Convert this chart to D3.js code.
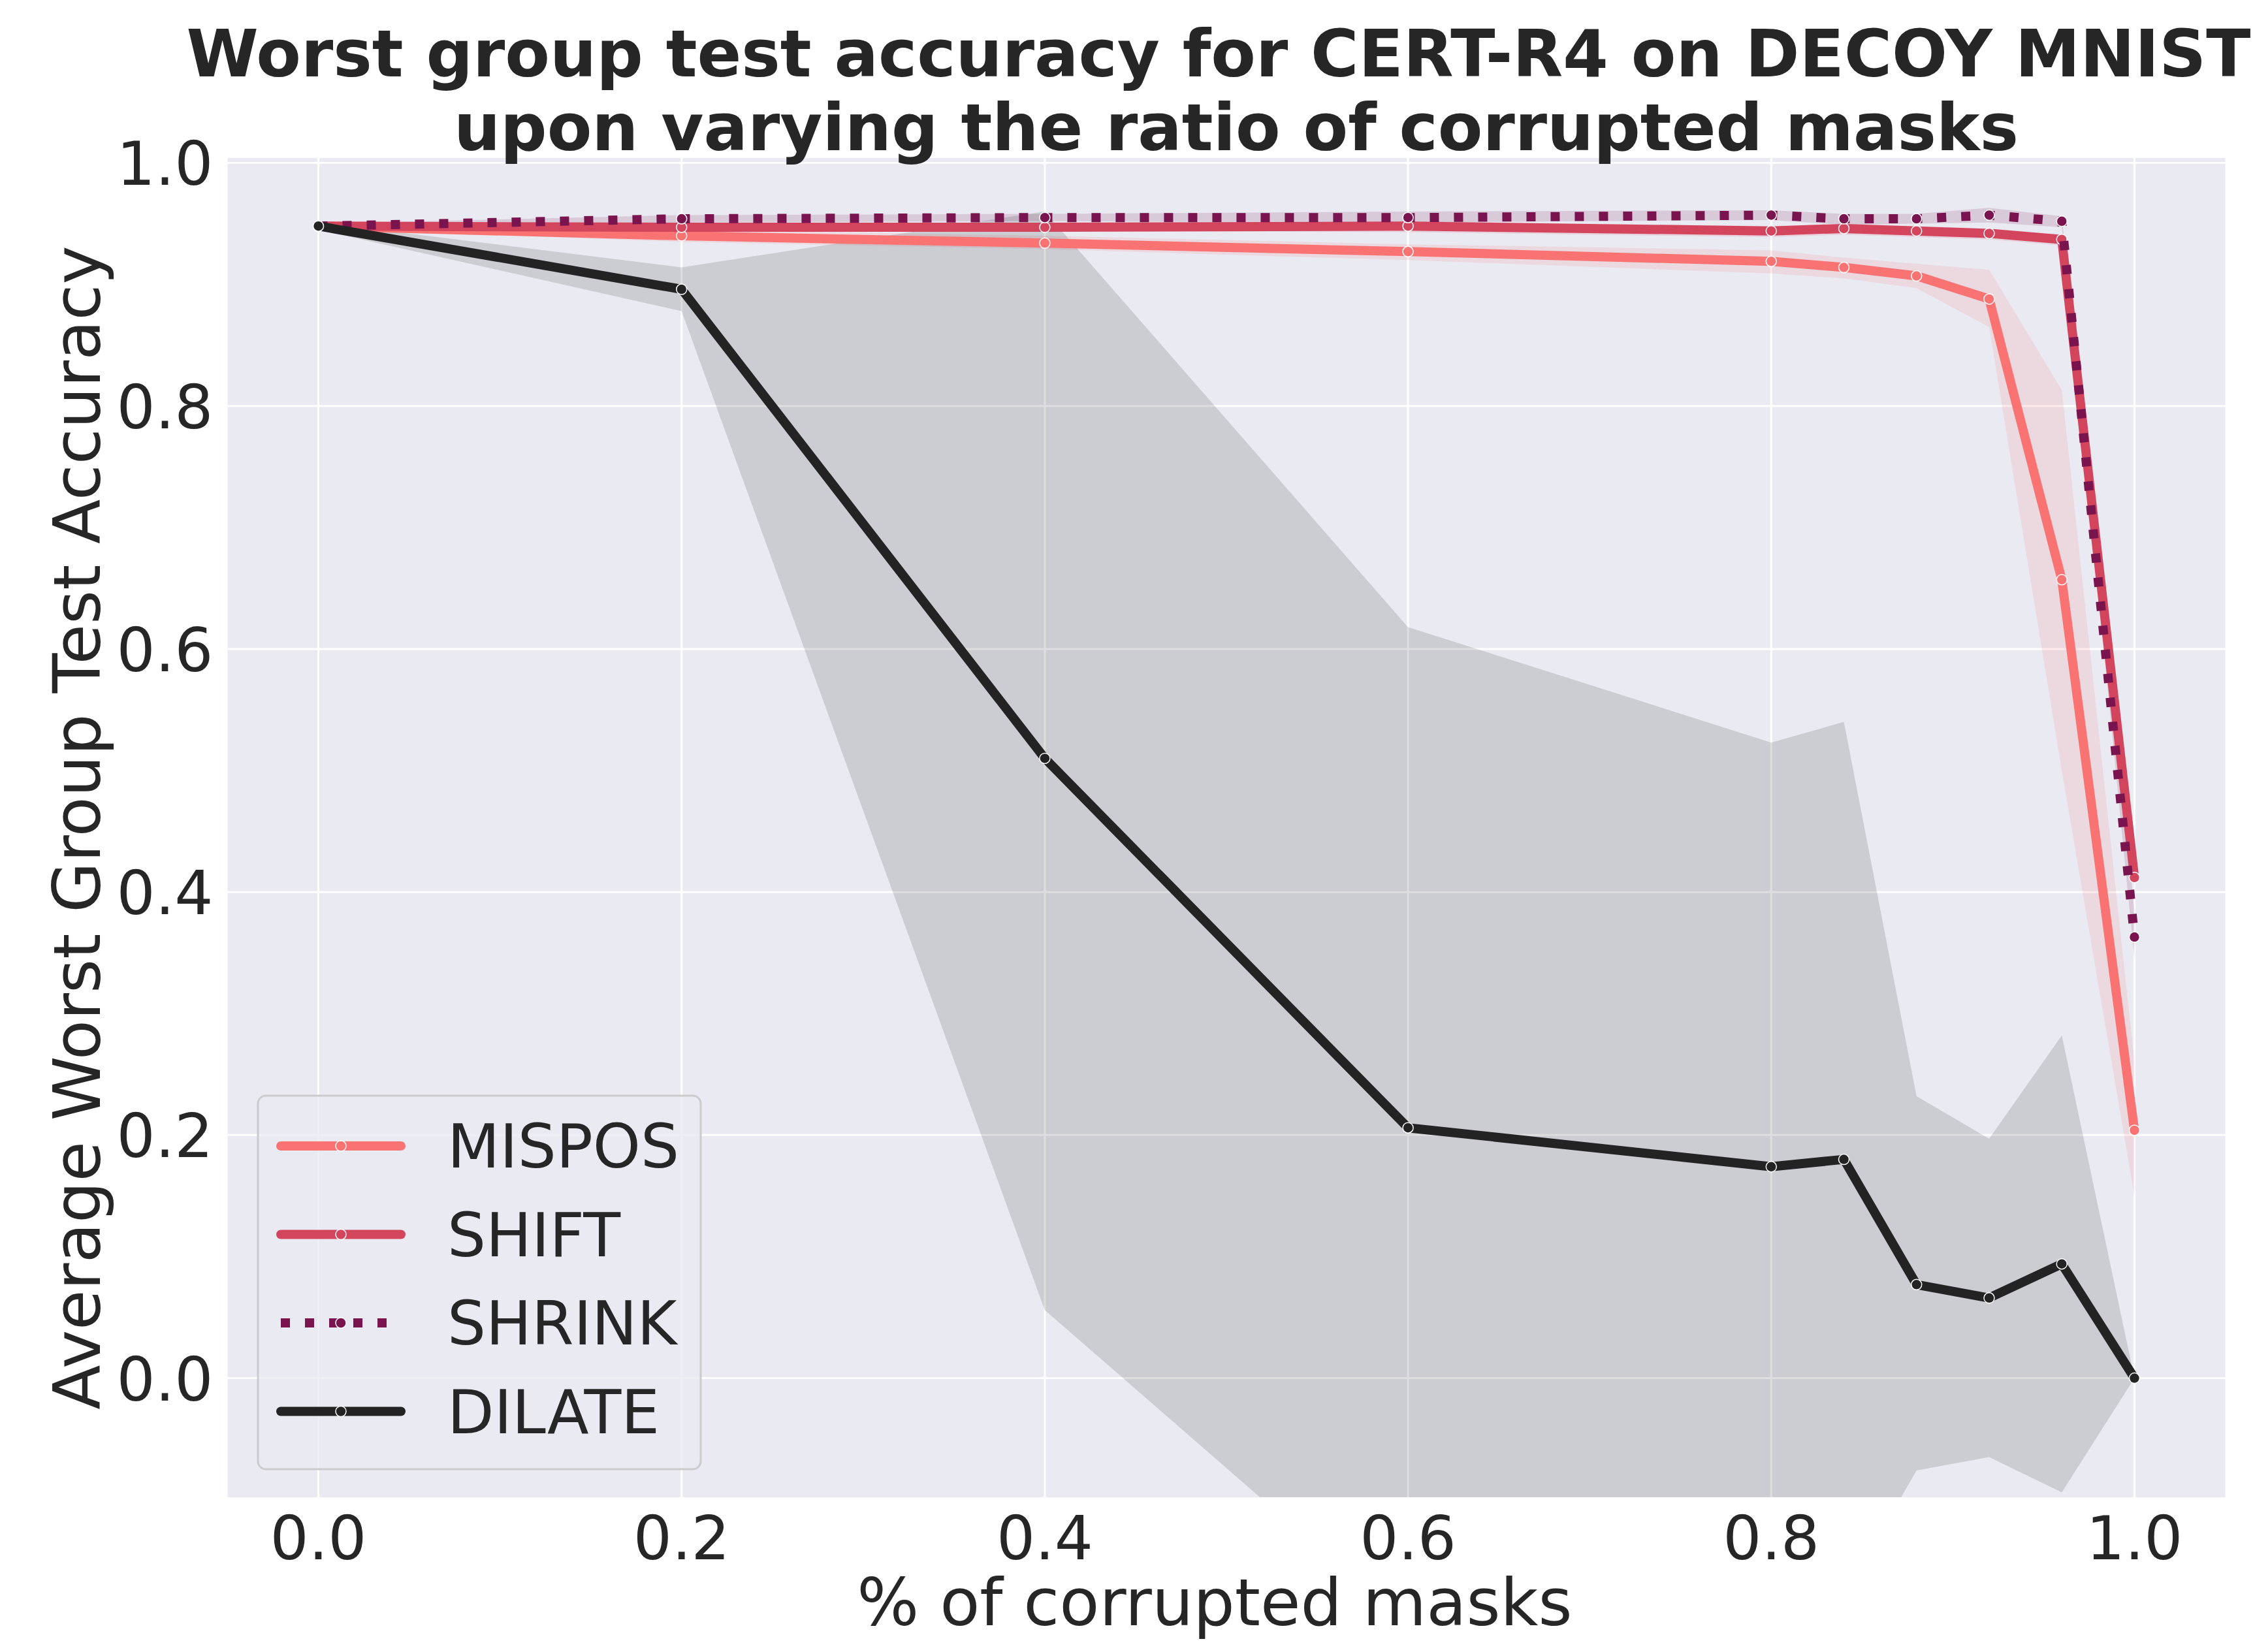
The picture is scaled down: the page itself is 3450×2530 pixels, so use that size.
<!DOCTYPE html>
<html>
<head>
<meta charset="utf-8">
<script src="https://cdn.jsdelivr.net/npm/d3@7"></script>
<style>
   body { margin: 0; background: #ffffff; }
   text { font-family: "DejaVu Sans", sans-serif; fill: #262626; }
</style>
</head>
<body>
<div id="chart"></div>
<script>

// X VALUES (RATIO OF CORRUPTED MASKS)
var ratios = [0, 0.2, 0.4, 0.6, 0.8, 0.84, 0.88, 0.92, 0.96, 1.0]

// SERIES NAMES
var seriesNames = ['MISPOS', 'SHIFT', 'SHRINK', 'DILATE']

// MEANS
var misposMean = [0.948, 0.940, 0.934, 0.927, 0.919, 0.914, 0.907, 0.888, 0.657, 0.204]
var shiftMean  = [0.948, 0.947, 0.947, 0.948, 0.944, 0.946, 0.944, 0.942, 0.937, 0.412]
var shrinkMean = [0.948, 0.954, 0.955, 0.955, 0.957, 0.954, 0.954, 0.957, 0.952, 0.363]
var dilateMean = [0.948, 0.896, 0.510, 0.206, 0.174, 0.180, 0.077, 0.066, 0.094, 0.000]

// CONFIDENCE BAND LOWER BOUNDS
var misposLow = [0.946, 0.935, 0.929, 0.920, 0.909, 0.905, 0.897, 0.865, 0.500, 0.150]
var shiftLow  = [0.946, 0.943, 0.944, 0.943, 0.939, 0.941, 0.939, 0.937, 0.932, 0.400]
var shrinkLow = [0.946, 0.951, 0.952, 0.951, 0.953, 0.949, 0.950, 0.951, 0.947, 0.345]
var dilateLow = [0.945, 0.878, 0.056, -0.204, -0.173, -0.180, -0.076, -0.065, -0.094, 0.000]

// CONFIDENCE BAND UPPER BOUNDS
var misposHigh = [0.950, 0.945, 0.940, 0.933, 0.928, 0.922, 0.917, 0.912, 0.813, 0.260]
var shiftHigh  = [0.950, 0.951, 0.950, 0.952, 0.948, 0.950, 0.948, 0.946, 0.941, 0.424]
var shrinkHigh = [0.950, 0.957, 0.958, 0.960, 0.961, 0.958, 0.958, 0.963, 0.956, 0.385]
var dilateHigh = [0.951, 0.914, 0.960, 0.618, 0.523, 0.540, 0.232, 0.197, 0.282, 0.000]

// TICKS
var xTicks = [0, 0.2, 0.4, 0.6, 0.8, 1.0]
var yTicks = [0, 0.2, 0.4, 0.6, 0.8, 1.0]

// TEXTS
var titleLines = ['Worst group test accuracy for CERT-R4 on DECOY MNIST', 'upon varying the ratio of corrupted masks']
var xLabel = '% of corrupted masks'
var yLabel = 'Average Worst Group Test Accuracy'

// SETTINGS
var settings = {
   width: 3450,
   height: 2530,
   plot: { left: 348.5, right: 3407.5, top: 242, bottom: 2293 },
   background: '#eaeaf2',
   colors: ['#f97373', '#d3455c', '#7a144f', '#232323'],
   dashes: [null, null, '14,23', null],
   lineWidth: 14,
   radius: 8,
   bandOpacity: 0.15,
   tickSize: 93,
   labelSize: 100,
   titleSize: 100,
   labelCenter: 1860,
   titleCenters: [1866, 1893]
}

// COMBINE ARRAYS PER SERIES
var means = [misposMean, shiftMean, shrinkMean, dilateMean]
var lows = [misposLow, shiftLow, shrinkLow, dilateLow]
var highs = [misposHigh, shiftHigh, shrinkHigh, dilateHigh]

function chart(settings) {

   var p = settings.plot

   // X-SCALING
   var xScale = d3.scaleLinear()
      .domain([-0.05, 1.05])
      .range([p.left, p.right])

   // Y-SCALING
   var yScale = d3.scaleLinear()
      .domain([-0.098, 1.004])
      .range([p.bottom, p.top])

   // GENERATE CANVAS
   var canvas = d3.select('#chart').append('svg')
      .attr('width', settings.width)
      .attr('height', settings.height)

   canvas.append('defs').append('clipPath')
      .attr('id', 'plotclip')
      .append('rect')
         .attr('x', p.left)
         .attr('y', p.top)
         .attr('width', p.right - p.left)
         .attr('height', p.bottom - p.top)

   // PLOT BACKGROUND
   canvas.append('rect')
      .attr('x', p.left)
      .attr('y', p.top)
      .attr('width', p.right - p.left)
      .attr('height', p.bottom - p.top)
      .attr('fill', settings.background)

   // GRID
   var grid = canvas.append('g')
   grid.selectAll('.vgrid')
      .data(xTicks)
         .enter().append('line')
            .attr('x1', d => xScale(d)).attr('x2', d => xScale(d))
            .attr('y1', p.top).attr('y2', p.bottom)
            .attr('stroke', '#ffffff')
            .attr('stroke-width', 3)
   grid.selectAll('.hgrid')
      .data(yTicks)
         .enter().append('line')
            .attr('y1', d => yScale(d)).attr('y2', d => yScale(d))
            .attr('x1', p.left).attr('x2', p.right)
            .attr('stroke', '#ffffff')
            .attr('stroke-width', 3)

   var plot = canvas.append('g').attr('clip-path', 'url(#plotclip)')

   // GENERATE BANDS
   var band = d3.area()
      .x((d, i) => xScale(ratios[i]))
      .y0(d => yScale(d[0]))
      .y1(d => yScale(d[1]))

   seriesNames.forEach((name, s) => {
      var pairs = lows[s].map((v, i) => [v, highs[s][i]])
      plot.append('path')
         .attr('fill', settings.colors[s])
         .attr('opacity', settings.bandOpacity)
         .attr('d', band(pairs))
   })

   // GENERATE LINES AND DOTS
   var pathify = d3.line()
      .x((d, i) => xScale(ratios[i]))
      .y(d => yScale(d))

   seriesNames.forEach((name, s) => {
      plot.append('path')
         .attr('fill', 'none')
         .attr('stroke', settings.colors[s])
         .attr('stroke-width', settings.lineWidth)
         .attr('stroke-linecap', settings.dashes[s] ? 'butt' : 'round')
         .attr('stroke-linejoin', 'round')
         .attr('stroke-dasharray', settings.dashes[s])
         .attr('d', pathify(means[s]))

      plot.selectAll('.dot' + s)
         .data(means[s])
            .enter().append('circle')
               .attr('cx', (d, i) => xScale(ratios[i]))
               .attr('cy', d => yScale(d))
               .attr('r', settings.radius)
               .attr('fill', settings.colors[s])
               .attr('stroke', '#ffffff')
               .attr('stroke-width', 1.5)
   })

   // X TICK LABELS
   canvas.selectAll('.xtick')
      .data(xTicks)
         .enter().append('text')
            .attr('x', d => xScale(d))
            .attr('y', p.bottom + 95)
            .attr('text-anchor', 'middle')
            .attr('font-size', settings.tickSize)
            .text(d => d.toFixed(1))

   // Y TICK LABELS
   canvas.selectAll('.ytick')
      .data(yTicks)
         .enter().append('text')
            .attr('x', p.left - 22)
            .attr('y', d => yScale(d) + 34)
            .attr('text-anchor', 'end')
            .attr('font-size', settings.tickSize)
            .text(d => d.toFixed(1))

   // AXIS LABELS
   canvas.append('text')
      .attr('x', settings.labelCenter)
      .attr('y', 2489)
      .attr('text-anchor', 'middle')
      .attr('font-size', settings.labelSize)
      .text(xLabel)

   canvas.append('text')
      .attr('transform', 'translate(153,' + (p.top + p.bottom) / 2 + ') rotate(-90)')
      .attr('text-anchor', 'middle')
      .attr('font-size', settings.labelSize)
      .text(yLabel)

   // TITLE
   canvas.selectAll('.title')
      .data(titleLines)
         .enter().append('text')
            .attr('x', (d, i) => settings.titleCenters[i])
            .attr('y', (d, i) => 117 + i * 113)
            .attr('text-anchor', 'middle')
            .attr('font-size', settings.titleSize)
            .attr('font-weight', 'bold')
            .text(d => d)

   // LEGEND
   var legend = canvas.append('g')
   legend.append('rect')
      .attr('x', 395)
      .attr('y', 1678)
      .attr('width', 678)
      .attr('height', 572)
      .attr('rx', 12)
      .attr('fill', settings.background)
      .attr('fill-opacity', 0.8)
      .attr('stroke', '#cccccc')
      .attr('stroke-width', 3)

   var rows = legend.selectAll('.row')
      .data(seriesNames)
         .enter().append('g')
            .attr('transform', (d, i) => 'translate(0,' + (1755 + i * 135.5) + ')')

   rows.append('line')
      .attr('x1', 430).attr('x2', 614)
      .attr('stroke', (d, i) => settings.colors[i])
      .attr('stroke-width', settings.lineWidth)
      .attr('stroke-linecap', (d, i) => settings.dashes[i] ? 'butt' : 'round')
      .attr('stroke-dasharray', (d, i) => settings.dashes[i])

   rows.append('circle')
      .attr('cx', 522)
      .attr('r', settings.radius)
      .attr('fill', (d, i) => settings.colors[i])
      .attr('stroke', '#ffffff')
      .attr('stroke-width', 1.5)

   rows.append('text')
      .attr('x', 685)
      .attr('y', 33)
      .attr('font-size', settings.tickSize)
      .text(d => d)
}

chart(settings)
</script>
</body>
</html>
